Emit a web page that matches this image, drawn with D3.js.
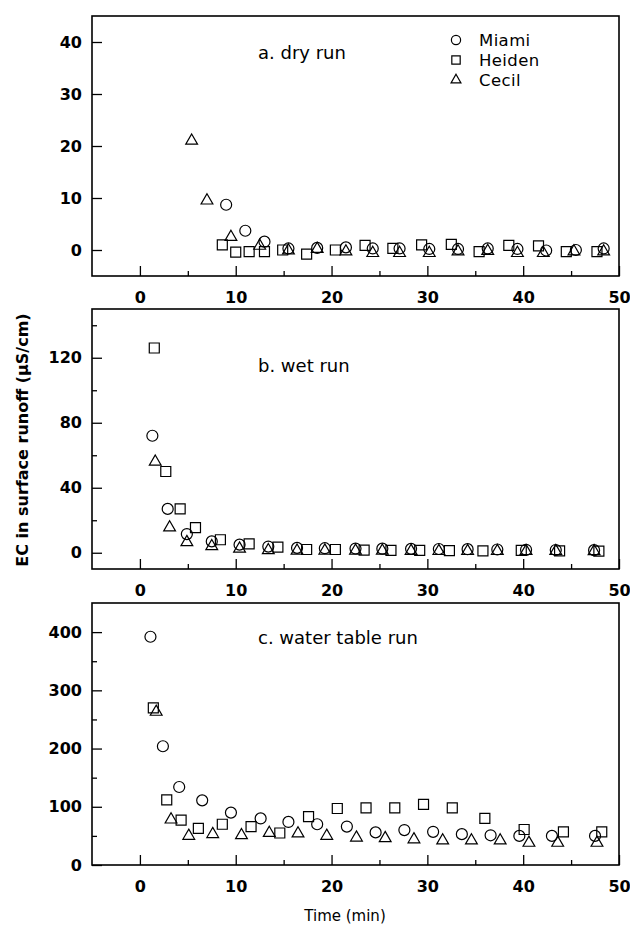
<!DOCTYPE html>
<html>
<head>
<meta charset="utf-8">
<script src="https://cdn.jsdelivr.net/npm/d3@7"></script>
<style>
  body { margin: 0; background: #fff; }
  svg { display: block; font-family: "DejaVu Sans", sans-serif; }
</style>
</head>
<body>
<div id="chart"></div>
<script>
const sites = ['Miami', 'Heiden', 'Cecil'];
const timeTicks = [0, 10, 20, 30, 40, 50];
const timeMinorTicks = [5, 15, 25, 35, 45];

// [time (min), EC (uS/cm)]
const dryMiami = [[9.0, 8.7], [11.0, 3.7], [13.0, 1.6], [15.5, 0.3], [18.5, 0.4], [21.5, 0.5], [24.3, 0.3], [27.1, 0.3],
  [30.2, 0.2], [33.2, 0.2], [36.3, 0.3], [39.4, 0.2], [42.4, -0.1], [45.5, 0.0], [48.4, 0.3]];
const dryHeiden = [[8.6, 1.0], [10.0, -0.4], [11.4, -0.3], [13.0, -0.3], [14.9, 0.0], [17.4, -0.8], [20.4, 0.0], [23.5, 0.9],
  [26.4, 0.3], [29.4, 1.0], [32.5, 1.1], [35.4, -0.3], [38.5, 0.9], [41.6, 0.8], [44.5, -0.3], [47.7, -0.3]];
const dryCecil = [[5.4, 21.0], [7.0, 9.5], [9.5, 2.5], [12.5, 0.8], [15.5, -0.1], [18.5, 0.2], [21.5, -0.3], [24.3, -0.6],
  [27.1, -0.6], [30.2, -0.6], [33.2, -0.3], [36.3, -0.2], [39.4, -0.6], [42.1, -0.6], [45.3, -0.3], [48.4, -0.3]];

const wetMiami = [[1.3, 72], [2.9, 27], [4.9, 11.5], [7.5, 7], [10.4, 5], [13.4, 3.8], [16.4, 3], [19.3, 2.8], [22.5, 2.6],
  [25.3, 2.5], [28.3, 2.4], [31.2, 2.3], [34.2, 2.2], [37.3, 2.0], [40.3, 1.8], [43.4, 1.7], [47.4, 1.6]];
const wetHeiden = [[1.5, 126], [2.7, 50], [4.2, 27], [5.8, 15.5], [8.4, 8], [11.4, 5.5], [14.4, 3.5], [17.4, 2], [20.4, 2],
  [23.4, 1.6], [26.2, 1.5], [29.2, 1.4], [32.3, 1.3], [35.8, 1.2], [39.8, 1.5], [43.8, 1.2], [47.9, 1.0]];
const wetCecil = [[1.6, 56], [3.1, 15.5], [4.9, 6.5], [7.5, 4], [10.4, 2.5], [13.4, 1.5], [16.4, 1.2], [19.3, 1.3], [22.5, 1.3],
  [25.3, 1.2], [28.3, 1.1], [31.2, 1.0], [34.2, 1.0], [37.3, 1.0], [40.3, 1.0], [43.4, 1.0], [47.4, 0.9]];

const tableMiami = [[1.1, 392], [2.4, 204], [4.1, 134], [6.5, 111], [9.5, 90], [12.6, 80], [15.5, 74], [18.5, 70], [21.6, 66],
  [24.6, 56], [27.6, 60], [30.6, 57], [33.6, 53], [36.6, 51], [39.6, 50], [43.0, 50], [47.5, 50]];
const tableHeiden = [[1.4, 270], [2.8, 112], [4.3, 77], [6.1, 63], [8.6, 70], [11.6, 66], [14.6, 55], [17.6, 83], [20.6, 97],
  [23.6, 98], [26.6, 98], [29.6, 104], [32.6, 98], [36.0, 80], [40.1, 61], [44.2, 57], [48.2, 57]];
const tableCecil = [[1.7, 263], [3.25, 78], [5.1, 50], [7.6, 53], [10.6, 51], [13.5, 55], [16.5, 54], [19.5, 50], [22.6, 47],
  [25.6, 46], [28.6, 44], [31.6, 42], [34.6, 42], [37.6, 42], [40.6, 38], [43.6, 38], [47.7, 38]];

const dryTicks = [0, 10, 20, 30, 40];
const wetTicks = [0, 40, 80, 120];
const wetMinorTicks = [20, 60, 100, 140];
const tableTicks = [0, 100, 200, 300, 400];
const tableMinorTicks = [50, 150, 250, 350];

const width = 630, height = 930;
const left = 92, right = 619;

const svg = d3.select('#chart').append('svg')
  .attr('width', width)
  .attr('height', height);

const x = d3.scaleLinear().domain([-5, 50]).range([left, right]);

const shapes = { Miami: d3.symbolCircle, Heiden: d3.symbolSquare, Cecil: d3.symbolTriangle };
const sizes = { Miami: 95, Heiden: 100, Cecil: 60 };
const symbolPath = (site, k = 1) => d3.symbol().type(shapes[site]).size(sizes[site] * k)();

const panels = [
  { title: 'a. dry run', top: 16, bottom: 276, domain: [-5, 45], ticks: dryTicks, minor: [],
    series: [dryMiami, dryHeiden, dryCecil], titleY: 59, legend: true },
  { title: 'b. wet run', top: 309, bottom: 569, domain: [-10, 150], ticks: wetTicks, minor: wetMinorTicks,
    series: [wetMiami, wetHeiden, wetCecil], titleY: 372 },
  { title: 'c. water table run', top: 603, bottom: 865, domain: [0, 450], ticks: tableTicks, minor: tableMinorTicks,
    series: [tableMiami, tableHeiden, tableCecil], titleY: 644 }
];

panels.forEach(p => {
  const y = d3.scaleLinear().domain(p.domain).range([p.bottom, p.top]);
  const g = svg.append('g');

  // minor ticks first, no labels
  g.append('g')
    .attr('transform', `translate(${left},0)`)
    .call(d3.axisLeft(y).tickValues(p.minor).tickSize(-5).tickFormat(''))
    .call(a => a.select('.domain').remove());
  g.append('g')
    .attr('transform', `translate(0,${p.bottom})`)
    .call(d3.axisBottom(x).tickValues(timeMinorTicks).tickSize(-5).tickFormat(''))
    .call(a => a.select('.domain').remove());

  const yAxis = g.append('g')
    .attr('transform', `translate(${left},0)`)
    .call(d3.axisLeft(y).tickValues(p.ticks).tickSize(-10).tickPadding(10));
  const xAxis = g.append('g')
    .attr('transform', `translate(0,${p.bottom})`)
    .call(d3.axisBottom(x).tickValues(timeTicks).tickSize(-10).tickPadding(16));

  [yAxis, xAxis].forEach(a => {
    a.select('.domain').remove();
    a.selectAll('text')
      .attr('fill', '#000')
      .style('font-family', '"DejaVu Sans", sans-serif')
      .style('font-size', '16px')
      .style('font-weight', 'bold');
  });
  g.selectAll('.tick line').attr('stroke', '#000').attr('stroke-width', 1.3);

  g.append('rect')
    .attr('x', left).attr('y', p.top)
    .attr('width', right - left).attr('height', p.bottom - p.top)
    .attr('fill', 'none').attr('stroke', '#000').attr('stroke-width', 1.6);

  g.append('text')
    .attr('x', 258).attr('y', p.titleY)
    .style('font-size', '18px')
    .text(p.title);

  p.series.forEach((pts, i) => {
    const site = sites[i];
    g.append('g').selectAll('path')
      .data(pts)
      .join('path')
      .attr('transform', d => `translate(${x(d[0])},${y(d[1])})`)
      .attr('d', symbolPath(site))
      .attr('fill', 'none')
      .attr('stroke', '#000')
      .attr('stroke-width', 1.2);
  });

  if (p.legend) {
    const lg = g.append('g').attr('transform', 'translate(456,40)');
    const row = lg.selectAll('g').data(sites).join('g')
      .attr('transform', (d, i) => `translate(0,${i * 20})`);
    row.append('path')
      .attr('d', d => symbolPath(d, 0.7))
      .attr('fill', 'none').attr('stroke', '#000').attr('stroke-width', 1.2);
    row.append('text')
      .attr('x', 23).attr('dy', '0.36em')
      .style('font-size', '16.5px')
      .style('letter-spacing', '0.4px')
      .text(d => d);
  }
});

svg.append('text')
  .attr('transform', 'translate(22,440) rotate(-90)')
  .attr('text-anchor', 'middle')
  .attr('dy', '0.35em')
  .style('font-size', '16px')
  .style('font-weight', 'bold')
  .text('EC in surface runoff (μS/cm)');

svg.append('text')
  .attr('x', 345).attr('y', 921)
  .attr('text-anchor', 'middle')
  .style('font-size', '15px')
  .text('Time (min)');
</script>
</body>
</html>
